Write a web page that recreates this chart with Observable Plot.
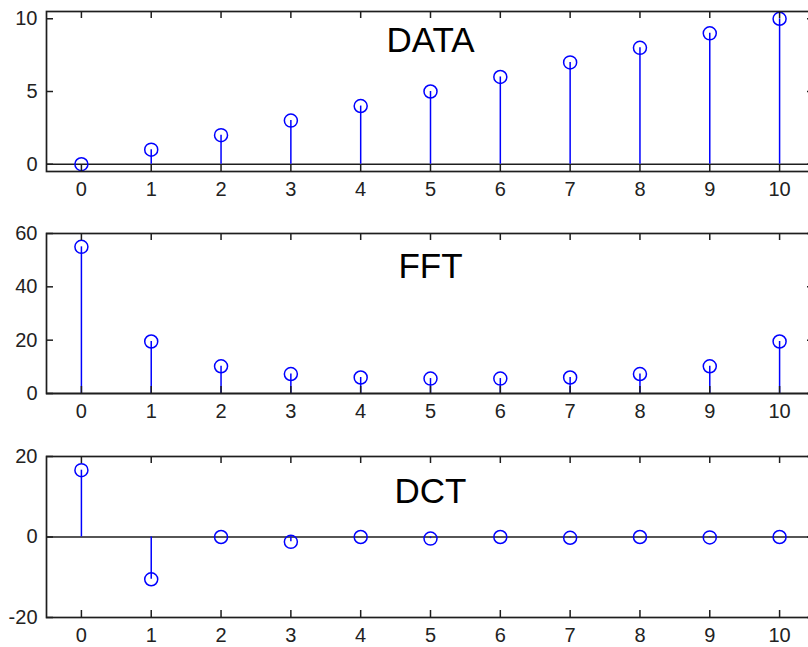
<!DOCTYPE html>
<html><head><meta charset="utf-8">
<script src="https://cdn.jsdelivr.net/npm/d3@7"></script>
<script src="https://cdn.jsdelivr.net/npm/@observablehq/plot@0.6"></script>
<style>
html,body{margin:0;padding:0;background:#fff;overflow:hidden;}
#chart{width:808px;height:647px;overflow:hidden;position:relative;background:#fff}
#chart svg{display:block;overflow:hidden;max-width:none !important;height:auto}
</style></head><body><div id="chart"></div>
<script>
// ---- data ----
const sampleIndex = [0, 1, 2, 3, 4, 5, 6, 7, 8, 9, 10];
const dataValues = [0, 1, 2, 3, 4, 5, 6, 7, 8, 9, 10];
const fftValues = [55, 19.5, 10.2, 7.3, 6.0, 5.6, 5.6, 6.0, 7.3, 10.2, 19.5];
const dctValues = [16.6, -10.5, 0, -1.2, 0, -0.4, 0, -0.2, 0, -0.1, 0];
const panelTitles = ["DATA", "FFT", "DCT"];
const xTickValues = [0, 1, 2, 3, 4, 5, 6, 7, 8, 9, 10];
const dataYTicks = [0, 5, 10];
const fftYTicks = [0, 20, 40, 60];
const dctYTicks = [-20, 0, 20];
const dataYDomain = [-0.5, 10.5];
const fftYDomain = [0, 60];
const dctYDomain = [-20, 20];

// ---- drawing ----
const FONT = "'Liberation Sans', Arial, Helvetica, sans-serif";
const AXIS = "#1e1e1e";
const BLUE = "#0000ff";

function panel({values, title, yDomain, yTicks, height, marginTop, marginBottom, titleDy}) {
  const W = 815, ML = 46, MR = 1;
  const innerW = W - ML - MR;
  const innerH = height - marginTop - marginBottom;
  const rows = sampleIndex.map((x, i) => ({x, y: values[i]}));
  const T = 7;
  return Plot.plot({
    width: W, height, marginLeft: ML, marginRight: MR, marginTop, marginBottom,
    style: {fontFamily: FONT, background: "white", overflow: "hidden", maxWidth: "none"},
    x: {domain: [-0.5, 10.5]},
    y: {domain: yDomain},
    marks: [
      Plot.ruleY([0], {stroke: AXIS, strokeWidth: 1.5}),
      Plot.ruleX(rows, {x: "x", y1: () => 0, y2: "y", stroke: BLUE, strokeWidth: 1.5}),
      Plot.dot(rows, {x: "x", y: "y", r: 6.5, stroke: BLUE, strokeWidth: 1.5, fill: "none"}),
      // inward ticks (bottom, top, left, right)
      Plot.tickX(xTickValues, {x: d => d, insetTop: innerH - T, stroke: AXIS, strokeWidth: 1.5}),
      Plot.tickX(xTickValues, {x: d => d, insetBottom: innerH - T, stroke: AXIS, strokeWidth: 1.5}),
      Plot.tickY(yTicks, {y: d => d, insetRight: innerW - T, stroke: AXIS, strokeWidth: 1.5}),
      Plot.tickY(yTicks, {y: d => d, insetLeft: innerW - T, stroke: AXIS, strokeWidth: 1.5}),
      Plot.frame({stroke: AXIS, strokeWidth: 1.7}),
      Plot.axisX(xTickValues, {tickSize: 0, tickPadding: 10, fontSize: 20, fill: "#222", label: null,
        tickFormat: d => String(d)}),
      Plot.axisY(yTicks, {tickSize: 0, tickPadding: 9, fontSize: 20, fill: "#222", label: null,
        tickFormat: d => String(d)}),
      Plot.text([title], {text: d => d, x: () => 5, frameAnchor: "top", lineAnchor: "top", dy: titleDy,
        fontSize: 35, fill: "black"})
    ]
  });
}

const host = document.getElementById("chart");
host.append(panel({values: dataValues, title: panelTitles[0], yDomain: dataYDomain, yTicks: dataYTicks,
  height: 222, marginTop: 11, marginBottom: 51, titleDy: 16}));
host.append(panel({values: fftValues, title: panelTitles[1], yDomain: fftYDomain, yTicks: fftYTicks,
  height: 223, marginTop: 11, marginBottom: 52, titleDy: 20}));
host.append(panel({values: dctValues, title: panelTitles[2], yDomain: dctYDomain, yTicks: dctYTicks,
  height: 202, marginTop: 11, marginBottom: 30, titleDy: 22}));
</script>
</body></html>
